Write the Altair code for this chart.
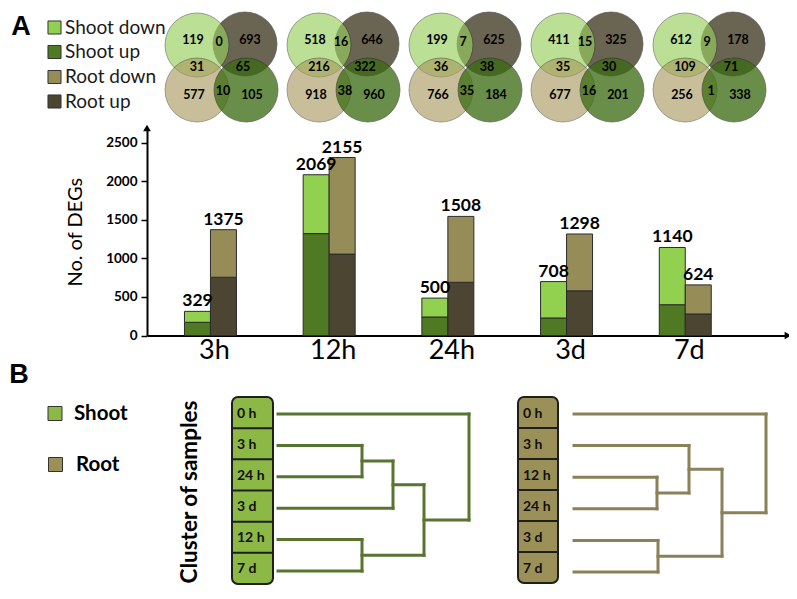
import altair as alt
import pandas as pd

# ---------------- data ----------------
times = ["3h", "12h", "24h", "3d", "7d"]
shoot_up = [171, 1321, 240, 227, 399]
shoot_down = [142, 763, 245, 472, 742]
root_up = [755, 1055, 690, 579, 279]
root_down = [617, 1252, 854, 737, 377]
shoot_total_labels = [329, 2069, 500, 708, 1140]
root_total_labels = [1375, 2155, 1508, 1298, 624]

# Venn region counts, one value per time point
venn_shoot_down_only = [119, 518, 199, 411, 612]
venn_sd_ru = [0, 16, 7, 15, 9]
venn_root_up_only = [693, 646, 625, 325, 178]
venn_sd_rd = [31, 216, 36, 35, 109]
venn_ru_su = [65, 322, 38, 30, 71]
venn_root_down_only = [577, 918, 766, 677, 256]
venn_rd_su = [10, 38, 35, 16, 1]
venn_shoot_up_only = [105, 960, 184, 201, 338]

categories = ["Shoot down", "Shoot up", "Root down", "Root up"]
cat_colors = ["#92d050", "#4f7a23", "#968c57", "#4b4531"]

shoot_leaves = ["0 h", "3 h", "24 h", "3 d", "12 h", "7 d"]
shoot_merges = [(1, 2, 84), (6, 3, 115), (4, 5, 84), (7, 8, 146), (0, 9, 191)]
root_leaves = ["0 h", "3 h", "12 h", "24 h", "3 d", "7 d"]
root_merges = [(2, 3, 83), (1, 6, 115), (4, 5, 84), (7, 8, 148), (0, 9, 192)]

# ---------------- layout / style ----------------
FONT = "Lato"
W, H = 641, 207.5          # bar plot area
OX, OY = 147, 128          # page position of plot origin
xP = alt.Scale(domain=[0, 797], range=[-OX, 797 - OX], nice=False, zero=False)
yP = alt.Scale(domain=[0, 599], range=[-OY, 599 - OY], nice=False, zero=False)


def PX(f):
    return alt.X(f, type="quantitative", scale=xP, axis=None)


def PY(f):
    return alt.Y(f, type="quantitative", scale=yP, axis=None)


# ---------------- bar chart ----------------
rows = []
for i, t in enumerate(times):
    rows += [
        dict(time=t, organ="Shoot", cat="Shoot up", value=shoot_up[i], ord=0),
        dict(time=t, organ="Shoot", cat="Shoot down", value=shoot_down[i], ord=1),
        dict(time=t, organ="Root", cat="Root up", value=root_up[i], ord=0),
        dict(time=t, organ="Root", cat="Root down", value=root_down[i], ord=1),
    ]
bar_df = pd.DataFrame(rows)

lab_rows = []
for i, t in enumerate(times):
    lab_rows.append(dict(time=t, organ="Shoot", top=shoot_up[i] + shoot_down[i], label=str(shoot_total_labels[i])))
    lab_rows.append(dict(time=t, organ="Root", top=root_up[i] + root_down[i], label=str(root_total_labels[i])))
lab_df = pd.DataFrame(lab_rows)

xB = alt.Scale(domain=times, paddingInner=0.562, paddingOuter=0.481, align=0.328)
xO = alt.Scale(domain=["Shoot", "Root"], paddingInner=0, paddingOuter=0)
yB = alt.Scale(domain=[0, 2690], nice=False, zero=True)

x_axis = alt.Axis(title=None, ticks=False, labelFontSize=27, labelFont=FONT, labelColor="black",
                  labelPadding=2, labelOffset=4, labelAngle=0, domainColor="black", domainWidth=2)
y_axis = alt.Axis(values=[0, 500, 1000, 1500, 2000, 2500], title="No. of DEGs", titleFont=FONT,
                  titleFontSize=20, titleFontWeight="normal", titleColor="black", titlePadding=20,
                  labelFont=FONT, labelFontWeight="bold", labelFontSize=13.5, labelColor="black",
                  labelPadding=4, tickSize=6, tickColor="black", tickWidth=1.5,
                  domainColor="black", domainWidth=2, grid=False, format="d")

bars = alt.Chart(bar_df).mark_bar(stroke="#2b2b2b", strokeWidth=1).encode(
    x=alt.X("time:N", scale=xB, sort=times, axis=x_axis),
    xOffset=alt.XOffset("organ:N", scale=xO, sort=["Shoot", "Root"]),
    y=alt.Y("value:Q", stack="zero", scale=yB, axis=y_axis),
    color=alt.Color("cat:N", scale=alt.Scale(domain=categories, range=cat_colors), legend=None),
    order=alt.Order("ord:Q"),
)
bar_labels = alt.Chart(lab_df).mark_text(font=FONT, fontWeight="bold", fontSize=17.5, baseline="alphabetic",
                                         dy=-5, color="black").encode(
    x=alt.X("time:N", scale=xB, sort=times, axis=x_axis),
    xOffset=alt.XOffset("organ:N", scale=xO, sort=["Shoot", "Root"]),
    y=alt.Y("top:Q", scale=yB, axis=y_axis),
    text="label:N",
)
bar_layer = alt.layer(bars, bar_labels)

arrow_up = alt.Chart(pd.DataFrame({"a": [0]})).mark_point(shape="triangle-up", filled=True, color="black",
                                                           size=60, opacity=1).encode(
    x=alt.value(0), y=alt.value(0))
arrow_right = alt.Chart(pd.DataFrame({"a": [0]})).mark_point(shape="triangle-right", filled=True, color="black",
                                                              size=60, opacity=1).encode(
    x=alt.value(W), y=alt.value(H))

# ---------------- Venn diagrams ----------------
VX0, VDX, VY0 = 197, 122, 45
circle_layout = [  # drawn in this order: name, dx, dy, fill, opacity
    ("Root up", 48, -1, "#463e28", 0.8),
    ("Shoot down", 0, 0, "#98cf5d", 0.65),
    ("Root down", 0, 45, "#a7995d", 0.62),
    ("Shoot up", 49, 45, "#3b6b12", 0.76),
]
circ_rows = []
k = 0
for i in range(len(times)):
    for name, dx, dy, fill, op in circle_layout:
        circ_rows.append(dict(px=VX0 + VDX * i + dx, py=VY0 + dy, fill=fill, op=op, k=k))
        k += 1
circ_df = pd.DataFrame(circ_rows)
circles = alt.Chart(circ_df).mark_circle(size=4096, stroke="#2a2a2a", strokeWidth=0.9, strokeOpacity=0.75).encode(
    x=PX("px"), y=PY("py"),
    color=alt.Color("fill:N", scale=None),
    opacity=alt.Opacity("op:Q", scale=None),
    order=alt.Order("k:Q"),
)

text_layout = [
    (venn_shoot_down_only, -4, -5),
    (venn_sd_ru, 22, -3),
    (venn_root_up_only, 53, -5),
    (venn_sd_rd, 0, 22),
    (venn_ru_su, 46, 22),
    (venn_root_down_only, -3, 50),
    (venn_rd_su, 26, 46),
    (venn_shoot_up_only, 55, 50),
]
vt_rows = []
for i in range(len(times)):
    for arr, dx, dy in text_layout:
        vt_rows.append(dict(px=VX0 + VDX * i + dx, py=VY0 + dy, t=str(arr[i])))
venn_text = alt.Chart(pd.DataFrame(vt_rows)).mark_text(font=FONT, fontWeight="bold", fontSize=12.5,
                                                         color="black", baseline="middle").encode(
    x=PX("px"), y=PY("py"), text="t:N")

# ---------------- legend A ----------------
legA_df = pd.DataFrame(dict(cat=categories, fill=cat_colors, py=[27.5, 52, 77, 101.5]))
legA_sq = alt.Chart(legA_df).mark_square(size=170, stroke="#333333", strokeWidth=1, opacity=1).encode(
    x=alt.value(54.5 - OX), y=PY("py"), color=alt.Color("fill:N", scale=None))
legA_tx = alt.Chart(legA_df).mark_text(font=FONT, fontSize=19, align="left", baseline="middle",
                                       color="#1a1a1a").encode(
    x=alt.value(65 - OX), y=PY("py"), text="cat:N")

panel_df = pd.DataFrame(dict(t=["A", "B"], px=[21, 19], py=[27, 375]))
panel_tx = alt.Chart(panel_df).mark_text(font="Liberation Sans", fontWeight="bold", fontSize=27,
                                         baseline="middle", color="black").encode(
    x=PX("px"), y=PY("py"), text="t:N")

# ---------------- section B ----------------
organ_fill = {"Shoot": "#8cb846", "Root": "#9b9057"}
legB_df = pd.DataFrame(dict(t=["Shoot", "Root"], px=[55, 55.5], tx=[74, 76], py=[413.5, 464.5],
                            fill=[organ_fill["Shoot"], organ_fill["Root"]]))
legB_sq = alt.Chart(legB_df).mark_square(size=196, stroke="#333333", strokeWidth=1, opacity=1).encode(
    x=PX("px"), y=PY("py"), color=alt.Color("fill:N", scale=None))
legB_tx = alt.Chart(legB_df).mark_text(font=FONT, fontWeight="bold", fontSize=20.5, align="left",
                                       baseline="middle", color="black").encode(
    x=PX("tx"), y=PY("py"), text="t:N")

cluster_tx = alt.Chart(pd.DataFrame(dict(t=["Cluster of samples"], px=[190], py=[492]))).mark_text(
    font=FONT, fontWeight="bold", fontSize=22.5, angle=270, baseline="middle", color="black").encode(
    x=PX("px"), y=PY("py"), text="t:N")

boxes = [  # organ, x0, x1, y0, y1, leaves
    ("Shoot", 232, 273, 397, 584, shoot_leaves),
    ("Root", 518, 558, 397, 583, root_leaves),
]
box_df = pd.DataFrame([dict(x0=b[1], x1=b[2], y0=b[3], y1=b[4], fill=organ_fill[b[0]]) for b in boxes])
box_rect = alt.Chart(box_df).mark_rect(cornerRadius=6, stroke="#1e1e1e", strokeWidth=2).encode(
    x=PX("x0"), x2="x1", y=PY("y0"), y2="y1", color=alt.Color("fill:N", scale=None))
div_rows, cell_rows = [], []
for organ, x0, x1, y0, y1, leaves in boxes:
    ch = (y1 - y0) / len(leaves)
    for j in range(1, len(leaves)):
        div_rows.append(dict(x0=x0, x1=x1, y=y0 + ch * j))
    for j, lab in enumerate(leaves):
        cell_rows.append(dict(px=x0 + 5, py=y0 + ch * (j + 0.5) + 1, t=lab))
dividers = alt.Chart(pd.DataFrame(div_rows)).mark_rule(color="#1e1e1e", strokeWidth=2).encode(
    x=PX("x0"), x2="x1", y=PY("y"))
cell_tx = alt.Chart(pd.DataFrame(cell_rows)).mark_text(font=FONT, fontWeight="bold", fontSize=14,
                                                       align="left", baseline="middle", color="#111111").encode(
    x=PX("px"), y=PY("py"), text="t:N")


def dendro_segments(n_leaves, merges):
    pos = {j: (0.0, float(j)) for j in range(n_leaves)}
    segs = []
    nid = n_leaves
    for a, b, h in merges:
        xa, ya = pos[a]
        xb, yb = pos[b]
        segs.append(dict(x=xa, x2=h, y=ya, y2=ya))
        segs.append(dict(x=xb, x2=h, y=yb, y2=yb))
        segs.append(dict(x=h, x2=h, y=ya, y2=yb))
        pos[nid] = (h, (ya + yb) / 2)
        nid += 1
    return pd.DataFrame(segs)


def dendro_chart(leaves, merges, x_page0, y_page0, y_page1, color):
    sx = alt.Scale(domain=[0, 200], range=[x_page0 - OX, x_page0 + 200 - OX], nice=False, zero=False)
    sy = alt.Scale(domain=[0, len(leaves) - 1], range=[y_page0 - OY, y_page1 - OY], nice=False, zero=False)
    return alt.Chart(dendro_segments(len(leaves), merges)).mark_rule(
        color=color, strokeWidth=3, strokeCap="square").encode(
        x=alt.X("x:Q", scale=sx, axis=None), x2="x2",
        y=alt.Y("y:Q", scale=sy, axis=None), y2="y2")


dendro_shoot = dendro_chart(shoot_leaves, shoot_merges, 278, 414, 571, "#587530")
dendro_root = dendro_chart(root_leaves, root_merges, 574, 414, 572, "#8a8158")

chart = alt.layer(
    bar_layer, arrow_up, arrow_right,
    circles, venn_text, legA_sq, legA_tx, panel_tx,
    legB_sq, legB_tx, cluster_tx, box_rect, dividers, cell_tx,
    dendro_shoot, dendro_root,
).resolve_scale(
    x="independent", y="independent", color="independent", opacity="independent"
).properties(
    width=W, height=H, autosize="none",
    padding={"left": OX - 8, "top": OY - 8, "right": 1, "bottom": 583 - (OY - 8) - H},
    background="white",
).configure_view(stroke=None)

chart.save("out.html", embed_options={"renderer": "svg", "actions": False})
